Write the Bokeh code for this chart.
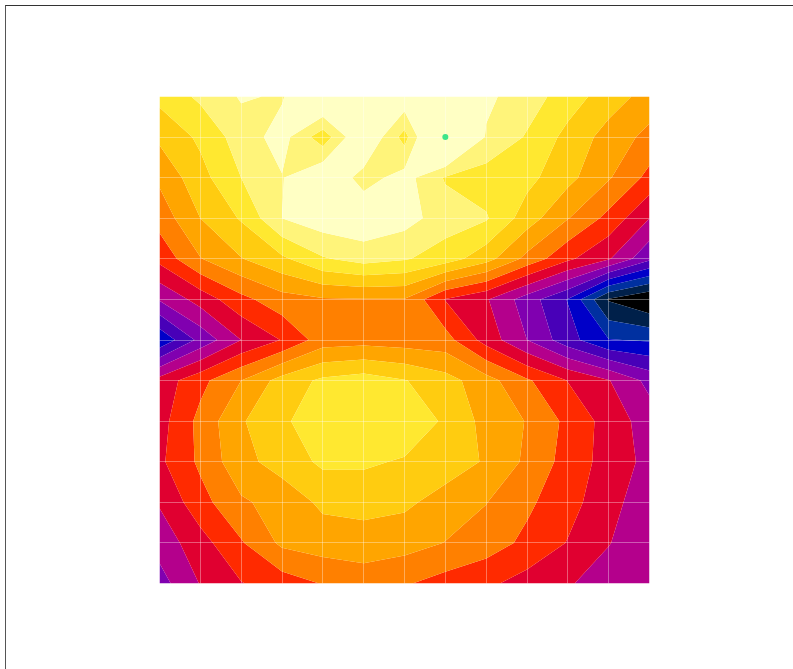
import numpy as np
from bokeh.plotting import figure
from bokeh.embed import file_html
from bokeh.resources import INLINE
from bokeh.models import FixedTicker, Range1d

grid_x = list(range(13))
grid_y = list(range(13))
row_00 = [12.3, 13.2, 14.1, 13.9, 15.6, 14.8, 14.8, 14.8, 14.2, 13.5, 12.5, 11.5, 10.6]
row_01 = [11.2, 12.2, 13.5, 14.4, 12.4, 15.2, 12.6, 17.0, 13.9, 12.9, 11.7, 10.6, 9.7]
row_02 = [10.2, 11.65, 13.0, 13.95, 15.0, 13.6, 14.4, 12.9, 12.5, 12.3, 11.3, 10.1, 8.7]
row_03 = [9.4, 11.0, 12.1, 14.0, 14.6, 14.8, 14.4, 13.5, 13.1, 11.5, 10.05, 8.7, 7.0]
row_04 = [8.3, 9.95, 10.95, 11.8, 12.9, 13.4, 13.1, 12.5, 11.4, 9.7, 8.2, 7.1, 5.2]
row_05 = [6.1, 7.4, 8.7, 9.6, 9.9, 9.95, 9.95, 7.95, 7.1, 5.5, 3.95, 0.9, 0.0]
row_06 = [3.2, 5.3, 7.0, 8.05, 9.5, 9.6, 9.5, 9.4, 7.6, 6.0, 4.4, 3.05, 2.9]
row_07 = [7.4, 8.7, 10.0, 11.4, 12.2, 12.5, 12.05, 11.4, 10.4, 9.15, 7.97, 7.05, 5.7]
row_08 = [7.6, 9.3, 10.9, 11.8, 12.7, 12.8, 12.7, 11.85, 10.67, 9.95, 8.75, 7.6, 6.5]
row_09 = [7.8, 9.2, 10.7, 11.4, 12.2, 12.15, 11.9, 11.5, 10.9, 9.8, 8.6, 7.6, 6.7]
row_10 = [7.1, 8.63, 9.85, 10.4, 11.2, 11.4, 11.2, 10.6, 10.03, 9.2, 8.35, 7.4, 6.3]
row_11 = [6.4, 7.6, 8.9, 10.2, 10.5, 10.5, 10.4, 9.97, 9.5, 8.76, 7.95, 7.05, 6.2]
row_12 = [5.6, 7.05, 7.95, 8.5, 9.05, 9.5, 9.1, 8.6, 8.2, 7.6, 7.1, 6.5, 6.1]
rows_top_down = [row_00, row_01, row_02, row_03, row_04, row_05, row_06, row_07,
                 row_08, row_09, row_10, row_11, row_12]
levels = [-2, 1, 2, 3, 4, 5, 6, 7, 8, 9, 10, 11, 12, 13, 14, 20]
band_colors = ["#000000", "#00204a", "#0030a0", "#0000c8", "#4800b8", "#8000b0", "#b4008c",
               "#e00030", "#ff2a00", "#ff8000", "#ffa500", "#ffcc10", "#ffe830", "#fff47a", "#ffffc4"]
marker_x = [7]
marker_y = [11]

z = np.array(rows_top_down[::-1], dtype=float)

p = figure(width=788, height=664, output_backend="svg", toolbar_location=None,
           x_range=Range1d(0, 12), y_range=Range1d(0, 12),
           min_border_left=153, min_border_right=145, min_border_top=90, min_border_bottom=87,
           outline_line_color=None, margin=(5, 0, 0, 5),
           styles={"border-top": "1px solid #333333", "border-left": "1px solid #555555"})
p.contour(grid_x, grid_y, z, levels, fill_color=band_colors, line_color=None)
p.scatter(marker_x, marker_y, size=6, color="#3ee58a", line_color=None, level="overlay")
p.axis.visible = False
for g in p.grid:
    g.ticker = FixedTicker(ticks=grid_x)
    g.grid_line_color = "#ffffff"
    g.grid_line_alpha = 0.35
    g.grid_line_width = 1
    g.level = "annotation"

open("out.html", "w").write(file_html(p, INLINE))
